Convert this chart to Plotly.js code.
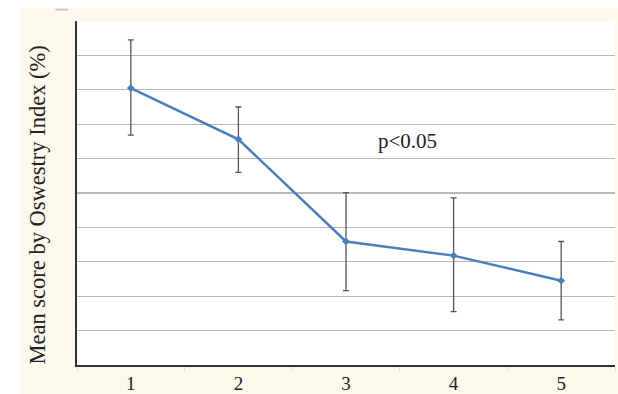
<!DOCTYPE html>
<html>
<head>
<meta charset="utf-8">
<script src="https://cdn.plot.ly/plotly-3.0.1.min.js"></script>
<style>html,body{margin:0;padding:0;background:#fff;}#chart{width:618px;height:394px;}</style>
</head>
<body>
<div id="chart"></div>
<script>
var timepoints = [1, 2, 3, 4, 5];
var meanScores = [80.5, 65.6, 35.9, 31.8, 24.5];
var errPlus = [14.0, 9.4, 14.2, 16.8, 11.4];
var errMinus = [13.7, 9.6, 14.3, 16.3, 11.4];
var tickLabels = ['1', '2', '3', '4', '5'];
var yTitle = 'Mean score by Oswestry Index (%)';
var note = 'p<0.05';

var trace = {
  x: timepoints,
  y: meanScores,
  type: 'scatter',
  mode: 'lines+markers',
  line: {color: '#4a7ebb', width: 2.5},
  marker: {symbol: 'diamond', size: 6, color: '#4a7ebb'},
  error_y: {
    type: 'data', symmetric: false,
    array: errPlus, arrayminus: errMinus,
    color: '#555555', thickness: 1.3, width: 3
  },
  hoverinfo: 'none'
};

var serif = 'Liberation Serif, Times New Roman, serif';

var layout = {
  width: 618, height: 394,
  margin: {l: 77, r: 3, t: 21, b: 29},
  paper_bgcolor: '#fcf8ec',
  plot_bgcolor: '#ffffff',
  showlegend: false,
  xaxis: {
    range: [0.5, 5.5],
    tickvals: timepoints,
    ticktext: tickLabels,
    ticks: '',
    showgrid: false,
    zeroline: false,
    showline: true, linecolor: '#333333', linewidth: 2,
    tickfont: {family: serif, size: 19, color: '#222'},
    minor: {tick0: 0.5, dtick: 1, ticks: 'outside', ticklen: 4, tickcolor: '#dddddd', showgrid: false}
  },
  yaxis: {
    range: [0, 100],
    dtick: 10,
    showticklabels: false,
    ticks: '',
    showgrid: true, gridcolor: '#b8b8b8', gridwidth: 1.3,
    zeroline: false,
    showline: true, linecolor: '#333333', linewidth: 2
  },
  shapes: [
    {type: 'rect', xref: 'paper', yref: 'paper', x0: -0.15, x1: -0.106, y0: -0.1, y1: 1.07, fillcolor: '#ffffff', line: {width: 0}, layer: 'below'},
    {type: 'rect', xref: 'paper', yref: 'paper', x0: -0.15, x1: 1.01, y0: 1.038, y1: 1.07, fillcolor: '#ffffff', line: {width: 0}, layer: 'below'},
    {type: 'line', xref: 'paper', yref: 'paper', x0: -0.04, x1: -0.016, y0: 1.033, y1: 1.033, line: {color: '#c8c8c8', width: 2}}
  ],
  annotations: [
    {text: note, xref: 'x', yref: 'paper', x: 3.57, y: (365 - 141) / 344, showarrow: false,
     font: {family: serif, size: 21, color: '#222'}},
    {text: yTitle, xref: 'paper', yref: 'paper', x: (22 - 77) / 538, y: (365 - 205) / 344,
     textangle: -90, showarrow: false, font: {family: serif, size: 22.5, color: '#222'}}
  ]
};

Plotly.newPlot('chart', [trace], layout, {staticPlot: true, displayModeBar: false});
</script>
</body>
</html>
